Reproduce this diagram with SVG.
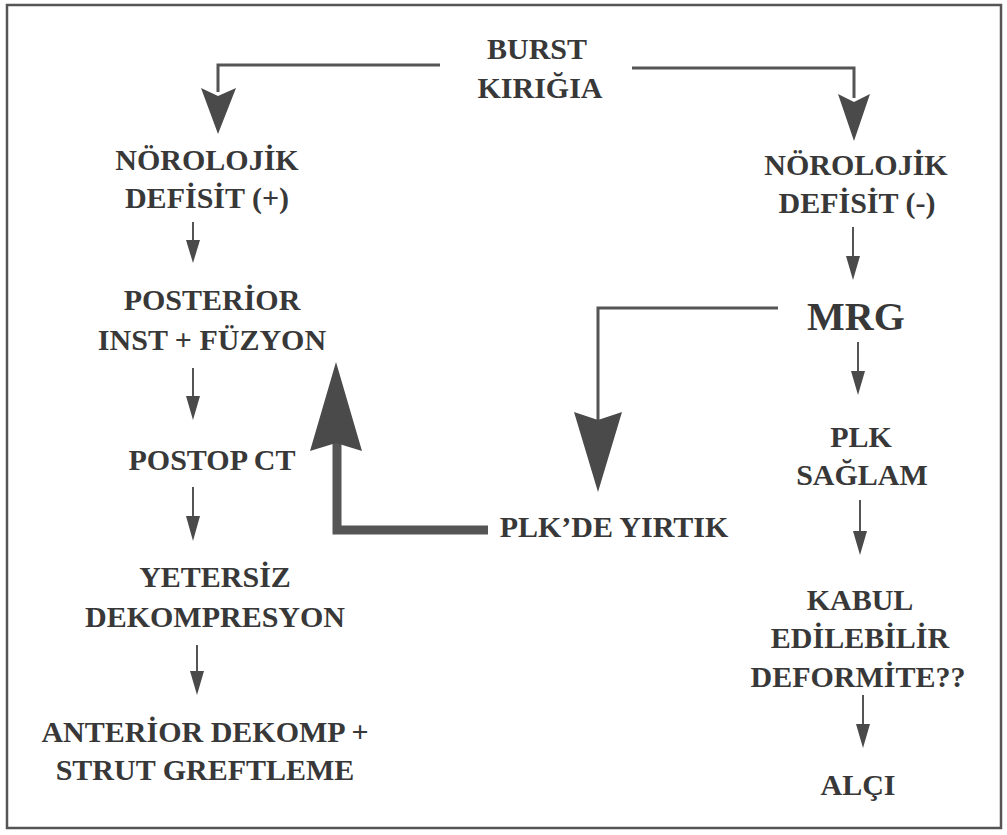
<svg xmlns="http://www.w3.org/2000/svg" width="1007" height="835" viewBox="0 0 1007 835">
<style>
.t{font-family:'Liberation Serif','Times New Roman',serif;font-weight:700;font-size:30px;fill:#383838;text-anchor:middle}
.big{font-size:40px}
.ln{fill:none;stroke:#555;stroke-width:3}
.thin{fill:none;stroke:#555;stroke-width:2}
.thick{fill:none;stroke:#555;stroke-width:9}
.hd{fill:#4a4a4a}
</style>
<rect x="7" y="5" width="994" height="823" fill="#fff" stroke="#555" stroke-width="2.5"/>
<g id="connectors">
  <path class="ln" d="M440,65 H218 V92"/>
  <polygon class="hd" points="201,88 218,96 236,88 218,134"/>
  <path class="ln" d="M632,68 H854 V98"/>
  <polygon class="hd" points="838,94 854,102 870,94 854,141"/>
  <path class="thin" d="M193,222 V250"/><polygon class="hd" points="186,240 200,240 193,263"/>
  <path class="thin" d="M193,368 V405"/><polygon class="hd" points="186,396 200,396 193,420"/>
  <path class="thin" d="M193,487 V525"/><polygon class="hd" points="186,516 200,516 193,541"/>
  <path class="thin" d="M197,645 V680"/><polygon class="hd" points="190,671 204,671 197,695"/>
  <path class="thin" d="M853,227 V265"/><polygon class="hd" points="846,256 860,256 853,280"/>
  <path class="thin" d="M858,342 V380"/><polygon class="hd" points="851,371 865,371 858,395"/>
  <path class="thin" d="M860,500 V540"/><polygon class="hd" points="853,531 867,531 860,555"/>
  <path class="thin" d="M863,695 V733"/><polygon class="hd" points="856,724 870,724 863,748"/>
  <path class="ln" d="M778,308 H598 V420"/>
  <polygon class="hd" points="574,412 598,420 622,412 598,492"/>
  <path class="thick" d="M488,530 H337 V440"/>
  <polygon class="hd" points="310,451 336,443 362,451 336,362"/>
</g>
<g id="n-burst"><text class="t" x="537" y="59">BURST</text><text class="t" x="540" y="98">KIRIĞIA</text></g>
<g id="n-defisit-plus"><text class="t" x="207" y="170">NÖROLOJİK</text><text class="t" x="207" y="208">DEFİSİT (+)</text></g>
<g id="n-posterior"><text class="t" x="212" y="310">POSTERİOR</text><text class="t" x="212" y="350">INST + FÜZYON</text></g>
<g id="n-postop"><text class="t" x="212" y="470">POSTOP CT</text></g>
<g id="n-yetersiz"><text class="t" x="215" y="587">YETERSİZ</text><text class="t" x="215" y="627">DEKOMPRESYON</text></g>
<g id="n-anterior"><text class="t" x="205" y="742">ANTERİOR DEKOMP +</text><text class="t" x="205" y="780">STRUT GREFTLEME</text></g>
<g id="n-defisit-minus"><text class="t" x="856" y="175">NÖROLOJİK</text><text class="t" x="857" y="213">DEFİSİT (-)</text></g>
<g id="n-mrg"><text class="t big" x="856" y="330">MRG</text></g>
<g id="n-plk-saglam"><text class="t" x="861" y="447">PLK</text><text class="t" x="862" y="485">SAĞLAM</text></g>
<g id="n-yirtik"><text class="t" x="614" y="537">PLK’DE YIRTIK</text></g>
<g id="n-kabul"><text class="t" x="860" y="610">KABUL</text><text class="t" x="860" y="648">EDİLEBİLİR</text><text class="t" x="858" y="687">DEFORMİTE??</text></g>
<g id="n-alci"><text class="t" x="858" y="795">ALÇI</text></g>
</svg>
